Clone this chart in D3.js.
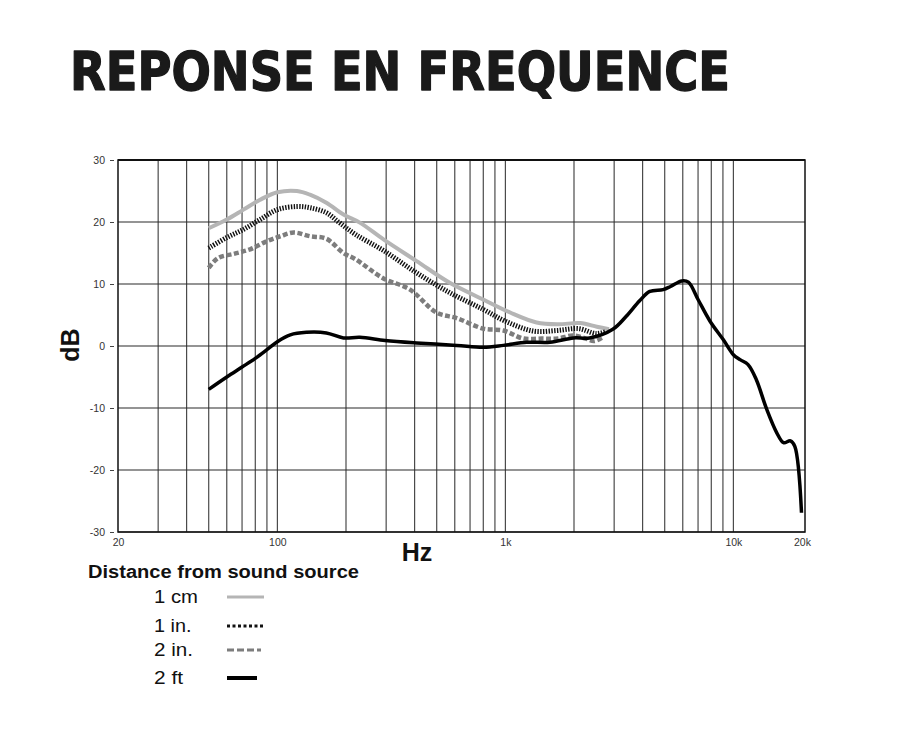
<!DOCTYPE html>
<html>
<head>
<meta charset="utf-8">
<script src="https://cdn.jsdelivr.net/npm/d3@7"></script>
<style>
  html, body { margin: 0; padding: 0; background: #fff; }
  svg { display: block; }
</style>
</head>
<body>
<svg id="chart" width="906" height="735"></svg>
<script>
// ---------- data ----------
const titleText = "REPONSE EN FREQUENCE";
const yTicks = [30, 20, 10, 0, -10, -20, -30];
const xLabelValues = [20, 100, 1000, 10000, 20000];
const xLabelTexts = ["20", "100", "1k", "10k", "20k"];
const gridFreqs = [30, 40, 50, 60, 70, 80, 90, 100, 200, 300, 400, 500, 600, 700, 800, 900,
                   1000, 2000, 3000, 4000, 5000, 6000, 7000, 8000, 9000, 10000];
const seriesNames = ["1 cm", "1 in.", "2 in.", "2 ft"];

const freq1cm = [50, 60, 71, 84, 100, 122, 139, 164, 195, 230, 292, 408, 570, 800, 1050, 1370, 1700, 2130, 2520, 2850];
const db1cm   = [19, 20.4, 22, 23.6, 24.8, 25, 24.4, 23.1, 21.2, 19.9, 17.2, 13.7, 10.2, 7.5, 5.4, 3.8, 3.5, 3.7, 3.1, 2.7];

const freq1in = [50, 60, 71, 84, 100, 122, 139, 164, 187, 220, 292, 408, 570, 800, 1000, 1330, 1680, 2100, 2500, 2750];
const db1in   = [15.8, 17.5, 18.8, 20.4, 22, 22.5, 22.3, 21.5, 19.9, 18, 15.4, 11.8, 8.6, 5.9, 4.0, 2.4, 2.5, 2.8, 2.0, 2.3];

const freq2in = [50, 55, 65, 76, 90, 103, 118, 139, 164, 195, 220, 292, 382, 498, 612, 800, 980, 1200, 1450, 1700, 1980, 2250, 2450, 2700];
const db2in   = [12.6, 14.2, 14.9, 15.6, 16.9, 17.7, 18.3, 17.7, 17.3, 15.0, 14, 10.9, 9.1, 5.4, 4.5, 2.8, 2.5, 1.2, 1.2, 1.2, 1.7, 1.2, 0.8, 1.5];

const freq2ft = [50, 60, 70, 80, 90, 100, 114, 134, 164, 195, 230, 297, 408, 612, 800, 980, 1240, 1570, 1990, 2340,
                 2960, 3390, 3880, 4300, 4920, 5300, 5940, 6350, 7000, 7900, 9040, 10000, 10700, 11600, 12600,
                 14000, 15500, 16600, 17800, 18600, 19900];
const db2ft   = [-7.0, -5.0, -3.4, -2.0, -0.6, 0.7, 1.8, 2.2, 2.1, 1.3, 1.4, 0.9, 0.5, 0.1, -0.2, 0.1, 0.6, 0.6, 1.3, 1.3,
                 2.7, 4.8, 7.3, 8.8, 9.1, 9.6, 10.5, 10.3, 7.5, 4.0, 1.0, -1.4, -2.2, -3.0, -5.4,
                 -10.2, -14, -15.6, -15.3, -16.2, -26.9];

// ---------- layout ----------
const svg = d3.select("#chart");
const L = 118, R = 802, T = 160, B = 532;
const x = d3.scaleLog().domain([20, 20000]).range([L, R]);
const y = d3.scaleLinear().domain([-30, 30]).range([B, T]);

// title
svg.append("text")
  .attr("x", 70).attr("y", 90)
  .attr("textLength", 660).attr("lengthAdjust", "spacingAndGlyphs")
  .attr("font-family", "DejaVu Sans").attr("font-weight", "bold")
  .attr("font-size", 53).attr("fill", "#1a1a1a")
  .attr("stroke", "#1a1a1a").attr("stroke-width", 1.4).attr("stroke-linejoin", "round")
  .text(titleText);

// grid
const g = svg.append("g");
g.selectAll("line.vg").data(gridFreqs).enter().append("line")
  .attr("x1", d => x(d)).attr("x2", d => x(d))
  .attr("y1", T).attr("y2", B)
  .attr("stroke", "#3a3a3a").attr("stroke-width", 1.1);
g.selectAll("line.hg").data(yTicks).enter().append("line")
  .attr("x1", L).attr("x2", R + 3)
  .attr("y1", d => y(d)).attr("y2", d => y(d))
  .attr("stroke", "#2a2a2a").attr("stroke-width", 1.1);

// frame
g.append("rect").attr("x", L).attr("y", T).attr("width", R + 3 - L).attr("height", B - T)
  .attr("fill", "none").attr("stroke", "#111").attr("stroke-width", 1.5);
g.append("line").attr("x1", L).attr("x2", R + 3).attr("y1", T).attr("y2", T)
  .attr("stroke", "#111").attr("stroke-width", 2.2);

// y axis
const yAxis = d3.axisLeft(y).tickValues(yTicks).tickSize(4).tickPadding(5)
  .tickFormat(d => String(d));
const ya = svg.append("g").attr("transform", `translate(${L - 4},0)`).call(yAxis);
ya.select(".domain").remove();
ya.selectAll(".tick line").attr("stroke", "#444");
ya.selectAll(".tick text").attr("font-family", "Liberation Sans").attr("font-size", 10.5).attr("fill", "#333");

// x axis labels
const xAxis = d3.axisBottom(x).tickValues(xLabelValues).tickSize(0).tickPadding(7)
  .tickFormat((d, i) => xLabelTexts[i]);
const xa = svg.append("g").attr("transform", `translate(0,${B})`).call(xAxis);
xa.select(".domain").remove();
xa.selectAll(".tick text").attr("font-family", "Liberation Sans").attr("font-size", 10.5).attr("fill", "#333");

// axis titles
svg.append("text").attr("x", 417).attr("y", 561).attr("text-anchor", "middle")
  .attr("font-family", "Liberation Sans").attr("font-weight", "bold").attr("font-size", 25)
  .attr("fill", "#111").text("Hz");
svg.append("text").attr("transform", "translate(79,345) rotate(-90)").attr("text-anchor", "middle")
  .attr("font-family", "Liberation Sans").attr("font-weight", "bold").attr("font-size", 25)
  .attr("fill", "#111").text("dB");

// series
const styles = [
  { color: "#b5b5b5", width: 4, dash: null },
  { color: "#111", width: 5, dash: "1.4,1.4" },
  { color: "#7d7d7d", width: 4.5, dash: "5,2.5" },
  { color: "#000", width: 3.5, dash: null }
];
const series = [
  d3.zip(freq1cm, db1cm),
  d3.zip(freq1in, db1in),
  d3.zip(freq2in, db2in),
  d3.zip(freq2ft, db2ft)
];
const line = d3.line().x(d => x(d[0])).y(d => y(d[1])).curve(d3.curveCatmullRom.alpha(0.5));
series.forEach((s, i) => {
  svg.append("path").datum(s).attr("d", line)
    .attr("fill", "none").attr("stroke", styles[i].color)
    .attr("stroke-width", styles[i].width)
    .attr("stroke-dasharray", styles[i].dash)
    .attr("stroke-linejoin", "round");
});

// legend
svg.append("text").attr("x", 88).attr("y", 578)
  .attr("textLength", 271).attr("lengthAdjust", "spacingAndGlyphs")
  .attr("font-family", "Liberation Sans").attr("font-weight", "bold").attr("font-size", 17.5)
  .attr("fill", "#111").text("Distance from sound source");
const legY = [597, 626, 650, 678];
const legLen = [37, 38, 34, 30];
const legTextLen = [44, 37.5, 39, 29];
seriesNames.forEach((n, i) => {
  svg.append("text").attr("x", 154).attr("y", legY[i] + 6)
    .attr("textLength", legTextLen[i]).attr("lengthAdjust", "spacingAndGlyphs")
    .attr("font-family", "Liberation Sans").attr("font-size", 18).attr("fill", "#111").text(n);
  svg.append("line").attr("x1", 227).attr("x2", 227 + legLen[i])
    .attr("y1", legY[i]).attr("y2", legY[i])
    .attr("stroke", styles[i].color)
    .attr("stroke-width", i === 3 ? 4 : 3)
    .attr("stroke-dasharray", i === 1 ? "3,2.5" : (i === 2 ? "7,3" : null));
});
</script>
</body>
</html>
